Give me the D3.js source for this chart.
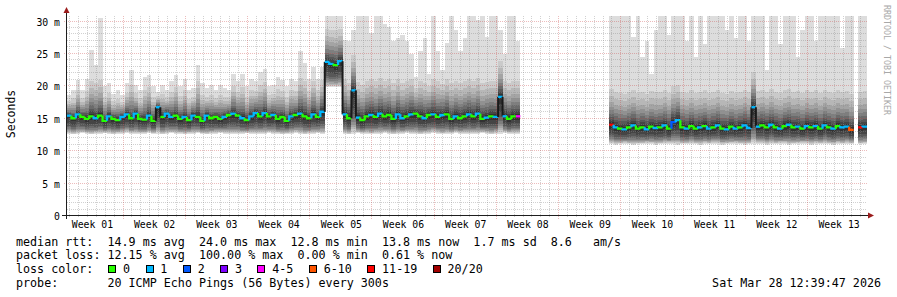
<!DOCTYPE html>
<html>
<head>
<meta charset="utf-8">
<script src="https://cdn.jsdelivr.net/npm/d3@7/dist/d3.min.js"></script>
<style>
  body { margin: 0; background: #fff; }
  text { font-family: "DejaVu Sans Mono", monospace; }
</style>
</head>
<body>
<div id="chart"></div>
<script>
// ---- data ----
const weekLabels = ["Week 01", "Week 02", "Week 03", "Week 04", "Week 05", "Week 06", "Week 07",
                    "Week 08", "Week 09", "Week 10", "Week 11", "Week 12", "Week 13"];
const yTicks = [0, 5, 10, 15, 20, 25, 30];

const lossLabels = ["0", "1", "2", "3", "4-5", "6-10", "11-19", "20/20"];
const lossColors = ["#26ff00", "#00b8ff", "#0059ff", "#7e00ff", "#ff00ff", "#ff5500", "#ff0000", "#a10000"];

// one sample every half day, 180 samples (ms); null = no data
const medianMs = [
  15.4, 15.0, 15.6, 15.2, 14.9, 15.3, 15.0, 15.4, 14.6, 15.3,
  14.9, 14.7, 15.2, 15.6, 15.0, 15.7, 14.9, 14.8, 15.4, 14.6,
  16.7, 15.2, 15.7, 15.2, 15.4, 14.9, 15.2, 14.7, 15.4, 15.2,
  14.6, 15.4, 15.0, 15.2, 14.9, 15.2, 15.5, 15.7, 15.4, 15.0,
  14.7, 15.3, 15.8, 15.3, 15.8, 15.3, 15.5, 14.9, 15.2, 14.6,
  15.3, 15.5, 15.7, 15.3, 15.0, 15.6, 15.2, 16.0, 23.7, 23.4,
  23.2, 23.8, 15.6, 15.0, 19.3, 15.1, 14.7, 15.3, 15.5, 15.2,
  15.7, 15.3, 15.5, 14.9, 15.6, 15.0, 15.3, 15.6, 15.7, 15.3,
  15.0, 15.5, 15.6, 15.2, 15.5, 15.6, 14.9, 15.3, 15.0, 15.3,
  15.6, 15.3, 15.7, 14.9, 15.1, 15.3, 15.2, 18.3, 15.3, 14.9,
  15.3, 15.3, null, null, null, null, null, null, null, null,
  null, null, null, null, null, null, null, null, null, null,
  null, null, 14.0, 13.6, 13.4, 13.3, 13.6, 13.9, 13.4, 13.6,
  13.3, 13.7, 13.5, 13.6, 13.9, 13.4, 14.4, 14.7, 13.6, 13.4,
  13.8, 13.4, 13.6, 13.8, 13.4, 13.6, 13.9, 13.4, 13.3, 13.7,
  13.4, 13.6, 13.9, 13.5, 16.7, 13.7, 13.9, 13.6, 14.0, 13.6,
  13.4, 13.8, 14.0, 13.6, 13.7, 13.4, 13.8, 13.6, 13.8, 13.4,
  13.9, 13.6, 13.4, 13.8, 13.6, 13.7, 13.2, null, 13.6, 13.7
];

// index into lossLabels
const lossIdx = [
  1, 0, 1, 0, 0, 0, 1, 0, 0, 1,
  0, 0, 1, 1, 0, 1, 0, 0, 1, 0,
  1, 0, 1, 1, 0, 0, 1, 0, 1, 0,
  0, 1, 0, 0, 0, 1, 0, 1, 0, 1,
  0, 1, 1, 0, 1, 0, 1, 0, 0, 0,
  1, 0, 1, 0, 0, 1, 0, 1, 1, 1,
  0, 1, 1, 0, 1, 1, 0, 0, 1, 0,
  1, 0, 0, 0, 1, 1, 0, 1, 0, 0,
  1, 0, 1, 0, 1, 0, 0, 1, 0, 0,
  1, 0, 1, 0, 1, 0, 1, 1, 1, 0,
  0, 4, null, null, null, null, null, null, null, null,
  null, null, null, null, null, null, null, null, null, null,
  null, null, 6, 1, 0, 1, 0, 1, 0, 0,
  1, 0, 1, 0, 1, 0, 2, 1, 0, 1,
  0, 0, 1, 0, 1, 0, 1, 0, 1, 0,
  1, 0, 1, 1, 1, 1, 0, 0, 1, 0,
  1, 0, 1, 0, 1, 0, 1, 0, 1, 0,
  1, 0, 1, 0, 1, 1, 5, null, 6, 1
];

// highest ping of each sample (ms)
const maxMs = [
  18.6, 19.4, 20.9, 19.4, 21.1, 25.5, 23.2, 30.5, 19.9, 20.4,
  18.8, 19.4, 18.6, 20.4, 22.4, 20.2, 19.4, 21.4, 21.7, 19.9,
  19.1, 20.2, 19.4, 20.7, 21.7, 19.9, 21.1, 19.4, 19.6, 23.2,
  20.4, 19.6, 20.2, 19.4, 20.2, 19.6, 19.4, 21.9, 20.7, 21.9,
  19.9, 21.1, 20.7, 22.1, 22.6, 19.9, 20.2, 21.4, 20.9, 19.9,
  21.1, 20.7, 25.3, 23.5, 21.1, 22.9, 21.1, 22.9, 31, 31,
  31, 31, 27.0, 26.9, 28.6, 31, 31, 31, 28.1, 31,
  31, 29.6, 29.0, 26.9, 27.4, 27.8, 26.9, 24.9, 21.4, 25.4,
  27.4, 21.9, 31, 25.4, 22.4, 26.6, 31, 28.6, 25.4, 27.4,
  31, 31, 30.1, 31, 27.6, 31, 31, 28.6, 24.9, 31,
  31, 26.9, null, null, null, null, null, null, null, null,
  null, null, null, null, null, null, null, null, null, null,
  null, null, 31, 31, 31, 31, 31, 27.6, 31, 24.4,
  26.9, 21.9, 28.6, 31, 31, 27.8, 31, 31, 31, 26.9,
  31, 24.4, 31, 26.4, 31, 31, 31, 31, 28.6, 31,
  27.4, 31, 31, 26.9, 31, 31, 31, 22.4, 31, 31,
  26.4, 31, 31, 31, 24.4, 28.6, 31, 31, 26.9, 31,
  31, 31, 31, 31, 25.9, 31, 31, null, 31, 31
];

// lowest ping of each sample (ms)
const minMs = [
  12.6, 12.5, 12.6, 12.7, 12.6, 12.5, 12.6, 12.6, 12.7, 12.6,
  12.5, 12.6, 12.6, 12.7, 12.6, 12.5, 12.6, 12.6, 12.7, 12.6,
  12.6, 12.5, 12.6, 12.7, 12.6, 12.6, 12.5, 12.6, 12.6, 12.7,
  12.6, 12.5, 12.6, 12.6, 12.7, 12.6, 12.6, 12.5, 12.6, 12.6,
  12.7, 12.6, 12.5, 12.6, 12.6, 12.7, 12.6, 12.6, 12.5, 12.6,
  12.6, 12.7, 12.6, 12.5, 12.6, 12.6, 12.7, 12.6, 19.8, 19.8,
  19.8, 19.8, 12.6, 12.5, 12.6, 12.7, 12.6, 12.6, 12.5, 12.6,
  12.6, 12.7, 12.6, 12.5, 12.6, 12.6, 12.7, 12.6, 12.6, 12.5,
  12.6, 12.6, 12.7, 12.6, 12.5, 12.6, 12.6, 12.7, 12.6, 12.6,
  12.5, 12.6, 12.6, 12.7, 12.6, 12.5, 12.6, 12.6, 12.7, 12.6,
  12.6, 12.6, null, null, null, null, null, null, null, null,
  null, null, null, null, null, null, null, null, null, null,
  null, null, 11.0, 10.9, 11.0, 11.1, 11.0, 10.9, 11.0, 11.0,
  11.1, 11.0, 10.9, 11.0, 11.0, 11.1, 11.0, 10.9, 11.0, 11.0,
  11.1, 11.0, 10.9, 11.0, 11.0, 11.1, 11.0, 10.9, 11.0, 11.0,
  11.1, 11.0, 10.9, 11.0, 11.0, 11.1, 11.0, 10.9, 11.0, 11.0,
  11.1, 11.0, 10.9, 11.0, 11.0, 11.1, 11.0, 10.9, 11.0, 11.0,
  11.1, 11.0, 10.9, 11.0, 11.0, 11.1, 11.0, null, 11.0, 11.0
];

const legendLines = [
  "median rtt:  14.9 ms avg  24.0 ms max  12.8 ms min  13.8 ms now  1.7 ms sd  8.6   am/s",
  "packet loss: 12.15 % avg  100.00 % max  0.00 % min  0.61 % now",
  "loss color:",
  "probe:       20 ICMP Echo Pings (56 Bytes) every 300s"
];
const stampText = "Sat Mar 28 12:39:47 2026";

// ---- layout ----
let w = 897,
    h = 297;

const stepDays = 0.5;
const firstWeekStart = -0.7; // day of the first week boundary

let svg = d3.select("#chart")
            .append("svg")
            .attr("width", w)
            .attr("height", h)
            .style("display", "block");

svg.append("rect").attr("width", w).attr("height", h).attr("fill", "#fff");

let x = d3.scaleLinear().domain([0, 90]).range([67, 867]);
let y = d3.scaleLinear().domain([0, 30.85]).range([215.5, 15.5]);

// smoke bands, outermost lightest
const upFrac = [1, .7, .55, .45, .36, .28, .2, .14, .09, .045];
const upCap  = [Infinity, 5.5, 4.4, 3.5, 2.8, 2.2, 1.7, 1.2, 0.75, 0.4];
const loFrac = [0, .05, .1, .15, .2, .27, .35, .45, .6, .8];

let bands = [];
medianMs.forEach((m, i) => {
  if (m == null) return;
  let hi = Math.min(maxMs[i], 30.85),
      lo = minMs[i];
  let x0 = Math.round(x(i * stepDays)),
      x1 = Math.round(x((i + 1) * stepDays));
  for (let k = 0; k < 10; k++) {
    let top = m + Math.min((hi - m) * upFrac[k], upCap[k]);
    let bot = lo + (m - lo) * loFrac[k];
    bands.push({ x0, x1, top, bot, g: 221 - 19 * k });
  }
});

svg.append("g")
   .attr("shape-rendering", "crispEdges")
   .selectAll("rect")
   .data(bands)
   .enter()
   .append("rect")
   .attr("x", d => d.x0)
   .attr("width", d => d.x1 - d.x0)
   .attr("y", d => Math.round(y(d.top)))
   .attr("height", d => Math.round(y(d.bot)) - Math.round(y(d.top)))
   .attr("fill", d => d3.rgb(d.g, d.g, d.g));

// grid
let grid = svg.append("g").attr("stroke-dasharray", "1,1").attr("shape-rendering", "crispEdges");
let snap = v => Math.floor(v) + 0.5;

let dayLines = d3.range(1, 91).map(k => firstWeekStart + k).filter(d => d < 90);
let weekLines = d3.range(1, 13).map(k => firstWeekStart + 7 * k);
let minorY = d3.range(1, 31).filter(v => v % 5 !== 0);

grid.selectAll(".vminor")
    .data(dayLines.filter(d => !weekLines.includes(d)))
    .enter().append("line")
    .attr("x1", d => snap(x(d))).attr("x2", d => snap(x(d)))
    .attr("y1", y(30.85)).attr("y2", 218)
    .attr("stroke", "#8c8c8c").attr("stroke-opacity", 0.4);

grid.selectAll(".hminor")
    .data(minorY)
    .enter().append("line")
    .attr("x1", 67).attr("x2", 867)
    .attr("y1", d => snap(y(d))).attr("y2", d => snap(y(d)))
    .attr("stroke", "#8c8c8c").attr("stroke-opacity", 0.4);

grid.selectAll(".vmajor")
    .data(weekLines)
    .enter().append("line")
    .attr("x1", d => snap(x(d))).attr("x2", d => snap(x(d)))
    .attr("y1", y(30.85)).attr("y2", 219)
    .attr("stroke", "#c84040").attr("stroke-opacity", 0.35);

grid.selectAll(".hmajor")
    .data(yTicks.filter(v => v > 0))
    .enter().append("line")
    .attr("x1", 64).attr("x2", 867)
    .attr("y1", d => snap(y(d))).attr("y2", d => snap(y(d)))
    .attr("stroke", "#c84040").attr("stroke-opacity", 0.35);

// median line coloured by loss
let line = d3.line().x(d => d[0]).y(d => d[1]);
let med = svg.append("g").attr("fill", "none");

medianMs.forEach((m, i) => {
  if (m == null) return;
  let x0 = x(i * stepDays),
      x1 = x((i + 1) * stepDays);
  let prev = i > 0 ? medianMs[i - 1] : null;
  let pts = [[x0, y(m)], [x1, y(m)]];
  if (prev != null) {
    if (Math.abs(prev - m) > 1.4) {
      med.append("path")
         .attr("d", line([[x0, y(prev)], [x0, y(m)]]))
         .attr("stroke", "#1a1a1a")
         .attr("stroke-width", 2);
    } else {
      pts.unshift([x0, y(prev)]);
    }
  }
  med.append("path")
     .attr("d", line(pts))
     .attr("stroke", lossColors[lossIdx[i]])
     .attr("stroke-width", 2.3);
});

// axes lines and arrows
svg.append("line")
   .attr("x1", 62).attr("x2", 869).attr("y1", 215.5).attr("y2", 215.5)
   .attr("stroke", "#1e1e1e").attr("stroke-width", 1);
svg.append("line")
   .attr("x1", 66.5).attr("x2", 66.5).attr("y1", 12).attr("y2", 219)
   .attr("stroke", "#1e1e1e").attr("stroke-width", 1);
svg.append("path")
   .attr("d", "M868,212.5L874,215.5L868,218.5Z")
   .attr("fill", "#9b1c1c");
svg.append("path")
   .attr("d", "M63.5,13L66.5,7L69.5,13Z")
   .attr("fill", "#9b1c1c");

// tick labels
let yAxis = svg.append("g")
   .attr("transform", "translate(67,1)")
   .call(d3.axisLeft(y).tickValues(yTicks)
           .tickFormat(d => d === 0 ? "0" : `${d} m`)
           .tickSize(0).tickPadding(7));
yAxis.select(".domain").remove();
yAxis.selectAll("text")
     .attr("font-family", "DejaVu Sans Mono")
     .attr("font-size", "9.8px")
     .attr("fill", "#000");

let weekMid = weekLabels.map((d, i) => firstWeekStart + 7 * i + 3.5);
let xAxis = svg.append("g")
   .attr("transform", "translate(0,215.5)")
   .call(d3.axisBottom(x).tickValues(weekMid)
           .tickFormat((d, i) => weekLabels[i])
           .tickSize(0).tickPadding(6));
xAxis.select(".domain").remove();
xAxis.selectAll("text")
     .attr("font-family", "DejaVu Sans Mono")
     .attr("font-size", "9.8px")
     .attr("fill", "#000");

// vertical title
svg.append("text")
   .attr("transform", "translate(14.5,114) rotate(-90)")
   .attr("text-anchor", "middle")
   .attr("font-size", "11.5px")
   .text("Seconds");

// watermark
svg.append("text")
   .attr("transform", "translate(883.5,5) rotate(90)")
   .attr("font-size", "8.3px")
   .attr("fill", "#a8a8a8")
   .text("RRDTOOL / TOBI OETIKER");

// legend
const charW = 7.04,
      legX = 16,
      rowY = [245.5, 259.2, 273, 286.7];

svg.selectAll(".leg")
   .data(legendLines)
   .enter().append("text")
   .attr("x", legX)
   .attr("y", (d, i) => rowY[i])
   .attr("font-size", "11.7px")
   .style("white-space", "pre")
   .text(d => d);

let col = 13.1;
lossLabels.forEach((lab, i) => {
  let bx = Math.round(legX + col * charW);
  svg.append("rect")
     .attr("x", bx + 0.5).attr("y", 265.5)
     .attr("width", 7).attr("height", 7)
     .attr("fill", lossColors[i])
     .attr("stroke", "#000").attr("stroke-width", 1);
  svg.append("text")
     .attr("x", legX + (col + 2.1) * charW)
     .attr("y", rowY[2])
     .attr("font-size", "11.7px")
     .text(lab);
  col += 2.1 + lab.length + 2.2;
});

svg.append("text")
   .attr("x", 881)
   .attr("y", rowY[3])
   .attr("text-anchor", "end")
   .attr("font-size", "11.7px")
   .text(stampText);
</script>
</body>
</html>
